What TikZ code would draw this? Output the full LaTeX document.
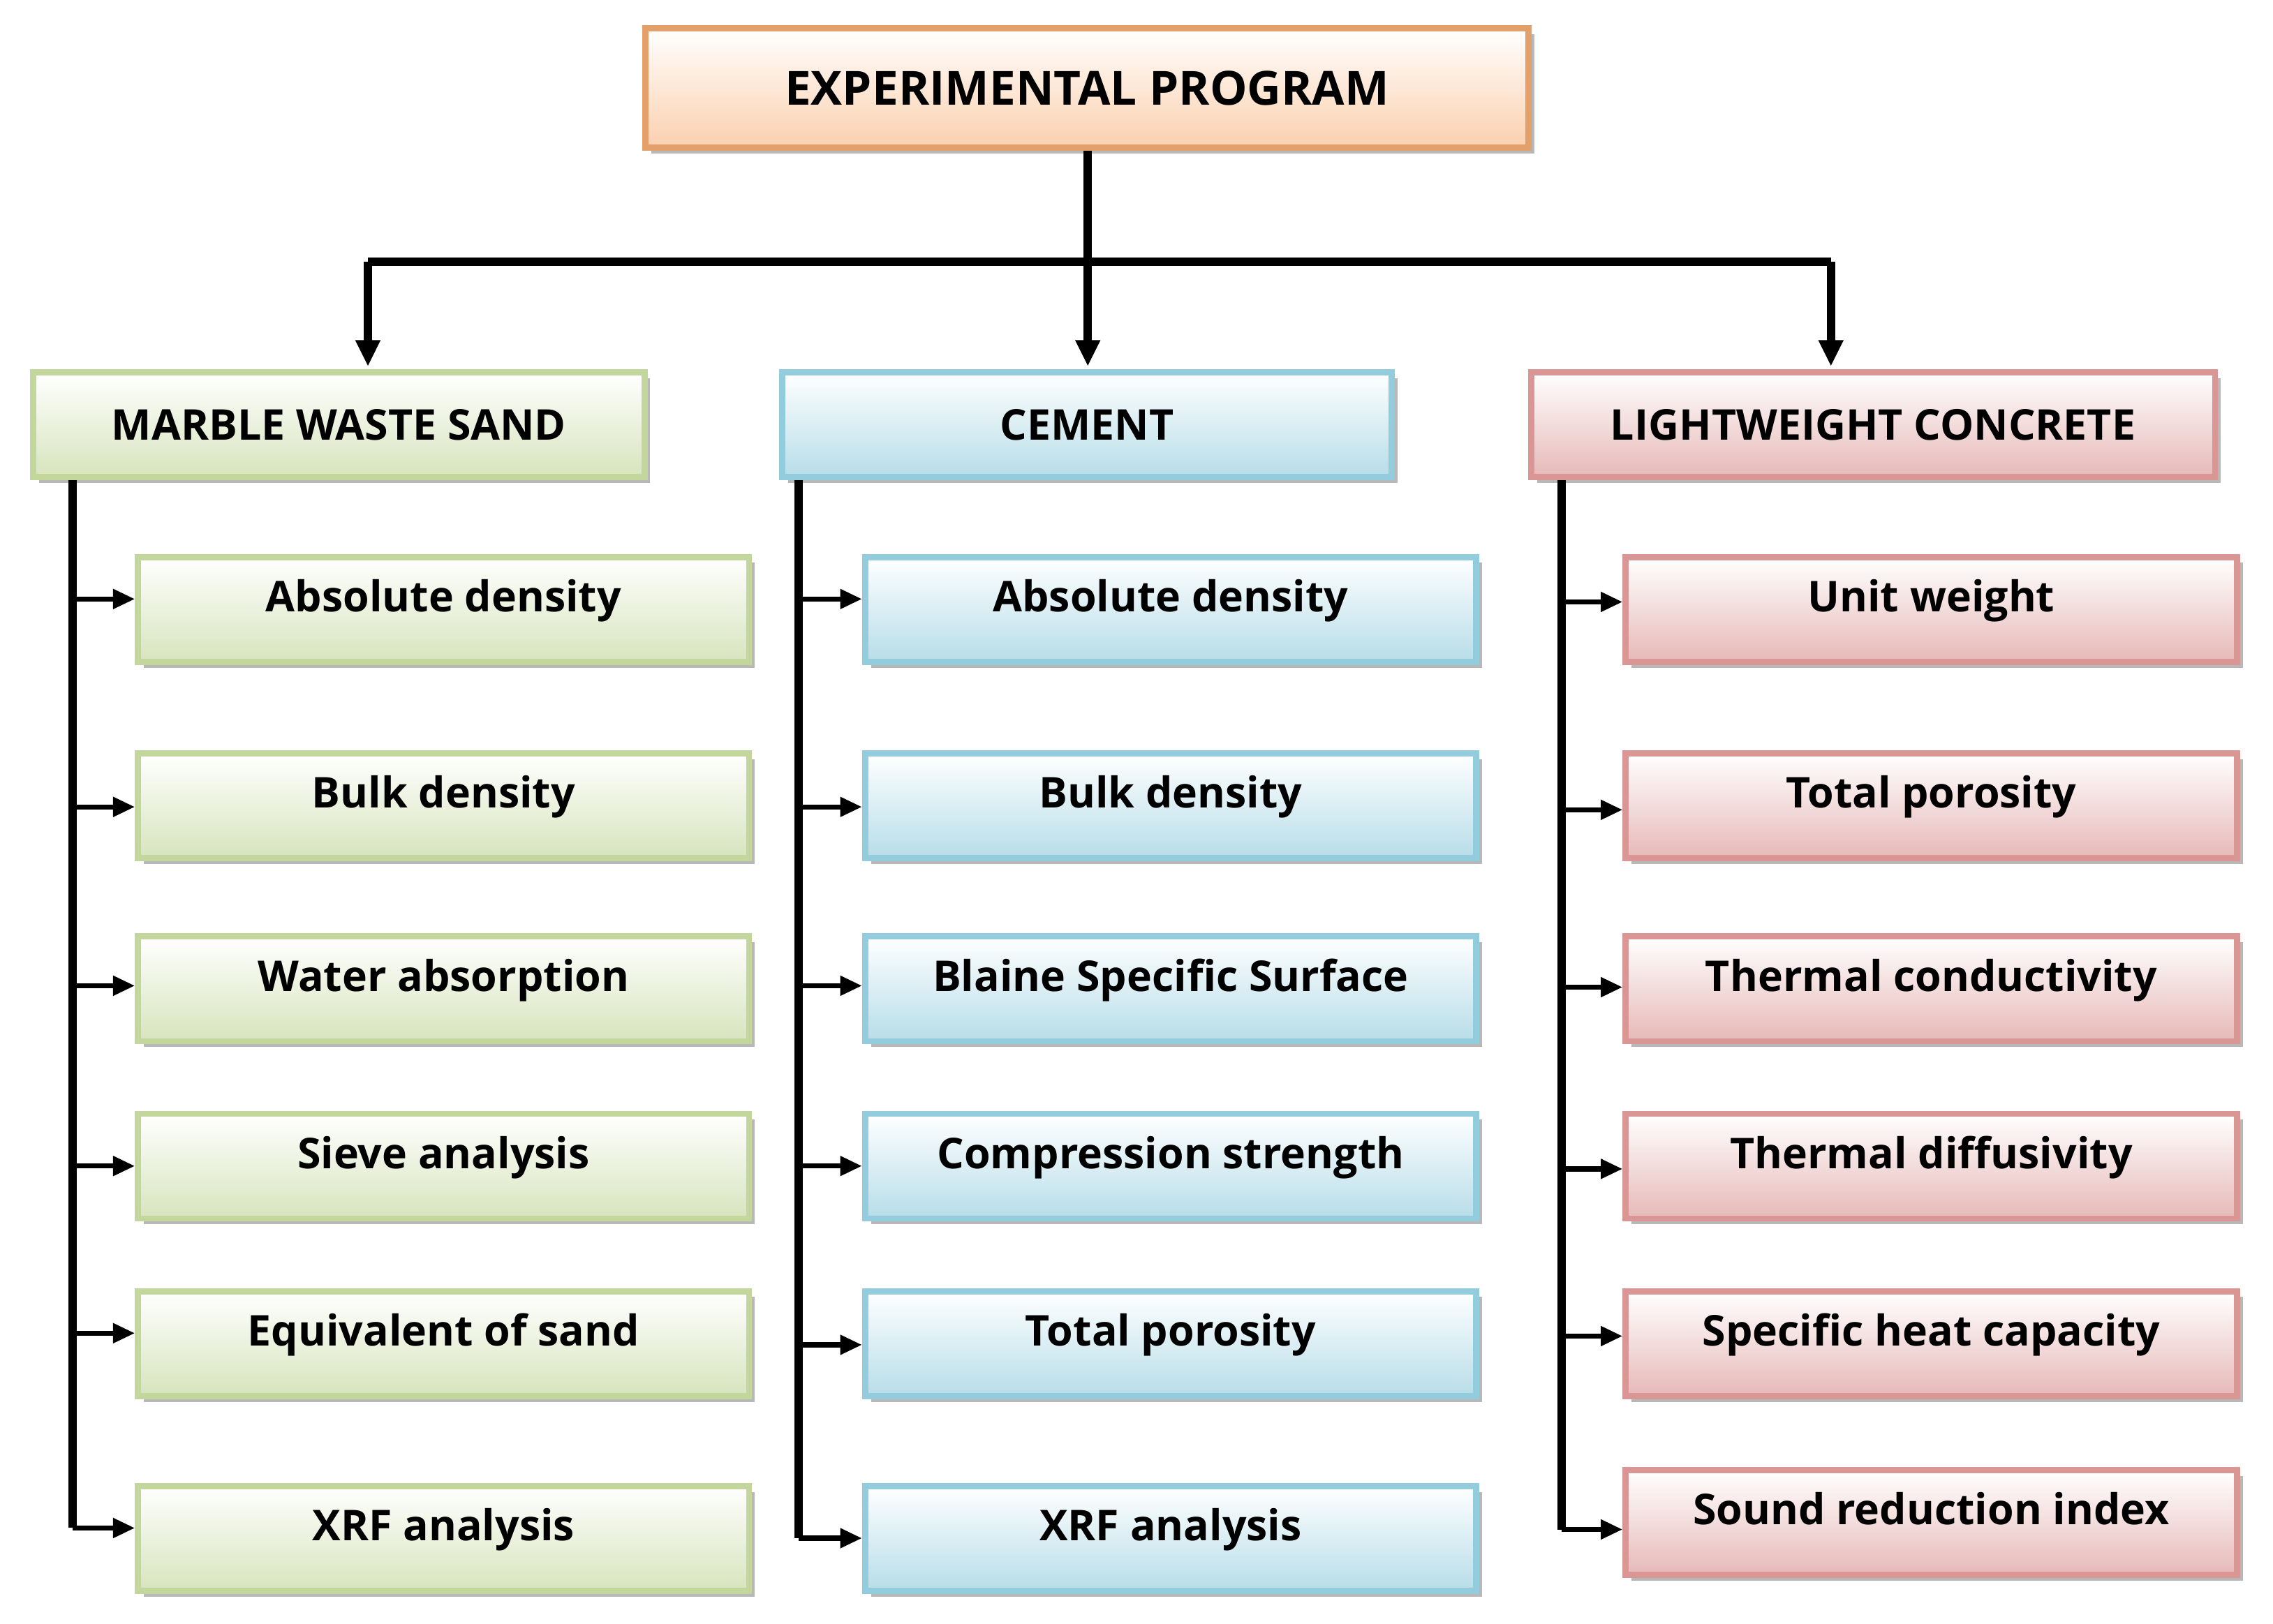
\documentclass[tikz,border=0pt]{standalone}
\usepackage{fontspec}
\setmainfont{Open Sans}
\usetikzlibrary{arrows.meta,shadows}
\definecolor{oB}{HTML}{E4A06A}\definecolor{oF}{HTML}{FBD0AE}
\definecolor{gB}{HTML}{C3D69B}\definecolor{gF}{HTML}{D7E4BD}
\definecolor{bB}{HTML}{93CDDD}\definecolor{bF}{HTML}{B7DDE8}
\definecolor{rB}{HTML}{D99694}\definecolor{rF}{HTML}{E6B9B8}
\begin{document}
\begin{tikzpicture}[x=0.01cm,y=-0.01cm,
 box/.style={draw=#1B,line width=1.2pt,top color=white,bottom color=#1F,
   minimum width=4.2cm,minimum height=0.72cm,inner sep=0pt,
   font=\fontsize{8.3}{10}\selectfont\bfseries,
   drop shadow={shadow xshift=0.04cm,shadow yshift=-0.04cm,fill=gray!70,opacity=0.8}},
 ln/.style={line width=1.6pt},
 arr/.style={line width=1.6pt,-{Triangle[length=0.18cm,width=0.16cm]}},
 sarr/.style={line width=1pt,-{Triangle[length=0.15cm,width=0.13cm]}}]
\useasboundingbox (0,0) rectangle (1563,1117);
\node[box=o,minimum width=6.07cm,minimum height=0.82cm,font=\fontsize{9.2}{12}\selectfont\bfseries] (top) at (747.5,60.5) {EXPERIMENTAL PROGRAM};
\node[box=g] (h1) at (233,292) {MARBLE WASTE SAND};
\node[box=b,minimum width=4.19cm] (h2) at (747.5,292) {CEMENT};
\node[box=r,minimum width=4.7cm] (h3) at (1288,292) {LIGHTWEIGHT CONCRETE};
\coordinate (j) at (748,180);
\coordinate (jl) at (253,180);
\coordinate (jr) at (1259,180);
\draw[ln] (top.south -| j) -- (j);
\draw[arr] (j) -- (748,252);
\draw[ln] (jl) -- (jr);
\draw[arr] (jl) -- (253,252);
\draw[arr] (jr) -- (1259,252);
\foreach \c/\cx/\sx/\txt/\row/\ay in {%
 g/305/50/Absolute density/381/412, g/305/50/Bulk density/516/555, g/305/50/Water absorption/642/678,
 g/305/50/Sieve analysis/764/802, g/305/50/Equivalent of sand/886/917, g/305/50/XRF analysis/1020/1051,
 b/805/549/Absolute density/381/412, b/805/549/Bulk density/516/555, b/805/549/Blaine Specific Surface/642/678,
 b/805/549/Compression strength/764/802, b/805/549/Total porosity/886/925, b/805/549/XRF analysis/1020/1058,
 r/1328/1074/Unit weight/381/414, r/1328/1074/Total porosity/516/557, r/1328/1074/Thermal conductivity/642/679,
 r/1328/1074/Thermal diffusivity/764/804, r/1328/1074/Specific heat capacity/886/919, r/1328/1074/Sound reduction index/1009/1052}{
 \node[box=\c,anchor=north,text depth=0.1cm] (n\c\row) at (\cx,\row) {\raisebox{0.09cm}{\txt}};
 \coordinate (s\c\row) at (\sx,\ay);
 \draw[sarr] (s\c\row) -- (n\c\row.west |- s\c\row);
}
\draw[ln] (h1.south -| 50,0) -- (50,1051) -- (sg1020);
\draw[ln] (h2.south -| 549,0) -- (549,1058) -- (sb1020);
\draw[ln] (h3.south -| 1074,0) -- (1074,1052) -- (sr1009);
\end{tikzpicture}
\end{document}
